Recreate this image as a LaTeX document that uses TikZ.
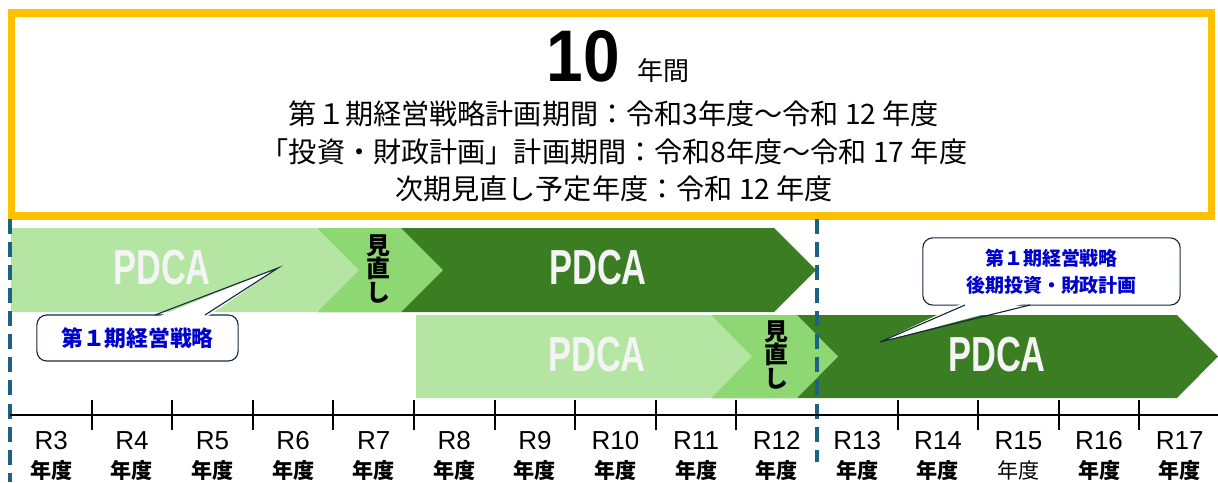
\documentclass[tikz,border=0pt]{standalone}
\usepackage{fontspec}
\setmainfont{Liberation Sans}
\newfontfamily\jpfont{Noto Sans CJK JP}
\usepackage{tikz}
\usetikzlibrary{positioning}
\definecolor{frameyellow}{HTML}{FFC000}
\definecolor{lightgreen}{HTML}{B4E5A2}
\definecolor{midgreen}{HTML}{8ED873}
\definecolor{darkgreen}{HTML}{3B7D23}
\definecolor{dashblue}{HTML}{1B6286}
\definecolor{calloutline}{HTML}{14293D}
\definecolor{calloutblue}{HTML}{0000CC}
\definecolor{pdcawhite}{HTML}{F4F4F4}
\tikzstyle{pdcatext} = [text=pdcawhite, font=\fontsize{35}{35}\selectfont\bfseries]
\tikzstyle{review} = [align=center, font=\jpfont\fontsize{17}{16.5}\selectfont\bfseries]
\tikzstyle{callbox} = [draw=calloutline, line width=0.8pt, fill=white, rounded corners=7pt]
\tikzstyle{calltext} = [text=calloutblue, align=center, font=\jpfont\fontsize{15.5}{19}\selectfont\bfseries]
\tikzstyle{divider} = [draw=dashblue, line width=2.4pt, dash pattern=on 10.7pt off 5.7pt]
\tikzstyle{yearlabel} = [align=center, font=\fontsize{18.5}{21}\selectfont]
\newcommand{\pdca}{\scalebox{0.7}[1]{PDCA}}

\begin{document}
\begin{tikzpicture}[x=0.025cm, y=-0.025cm] % 1 unit = 1 px of the original
\useasboundingbox (0,0) rectangle (1218,482);
% header frame
\draw[frameyellow, line width=5pt] (11.5,13) rectangle (1211.5,216);
\node (ten) at (583.5,56.5) {\fontsize{52}{52}\selectfont\bfseries\scalebox{0.9}[1]{10}};
\node (nenkan) [anchor=base west, inner sep=0pt] at (637,80) {\jpfont\fontsize{18.5}{18.5}\selectfont 年間};
\node (periods) [align=center, font=\jpfont\fontsize{20}{26.7}\selectfont] at (614,151.5)
  {第１期経営戦略計画期間：令和3年度～令和 12 年度\\
   「投資・財政計画」計画期間：令和8年度～令和 17 年度\\
   次期見直し予定年度：令和 12 年度};

% first row
\fill[darkgreen] (318,228) -- (774,228) -- (816,270) -- (774,312) -- (318,312) -- cycle;
\fill[midgreen] (318,228) -- (401,228) -- (443,270) -- (401,312) -- (318,312) -- cycle;
\fill[lightgreen] (11,228) -- (317,228) -- (359,270) -- (317,312) -- (11,312) -- cycle;
\node (pdca1) [pdcatext] at (162,268) {\pdca};
\node (review1) [review] at (378,269) {見\\直\\し};
\node (pdca2) [pdcatext] at (598,268) {\pdca};

% second row
\fill[darkgreen] (712,315) -- (1177,315) -- (1218,356.5) -- (1177,398) -- (712,398) -- cycle;
\fill[midgreen] (712,315) -- (797,315) -- (838,356.5) -- (797,398) -- (712,398) -- cycle;
\fill[lightgreen] (416,315) -- (711,315) -- (752,356.5) -- (711,398) -- (416,398) -- cycle;
\node (pdca3) [pdcatext] at (597,355) {\pdca};
\node (review2) [review] at (776,355) {見\\直\\し};
\node (pdca4) [pdcatext] at (997,355) {\pdca};

% dividers
\draw[divider] (10,219) -- (10,482);
\draw[divider] (817,219) -- (817,462);

% time axis
\draw[line width=1.4pt] (10,415) -- (1218,415);
\foreach \k in {1,...,9,11,12,13,14}
  \draw[line width=1.4pt] (11+80.6*\k,400) -- (11+80.6*\k,430);
\foreach \yr [count=\i from 0] in {3,...,17}{
  \ifnum\yr=15
    \node (yr\yr) [yearlabel] at (11+80.6*\i+40.3,456) {R\yr\\{\jpfont\fontsize{15}{15}\selectfont 年度}};
  \else
    \node (yr\yr) [yearlabel] at (11+80.6*\i+40.3,456) {R\yr\\{\jpfont\fontsize{15}{15}\selectfont\bfseries 年度}};
  \fi
}

% callouts
\node (strat1) [callbox, calltext, minimum width=5.03cm, minimum height=1.15cm] at (137.5,338) {第１期経営戦略};
\coordinate (tip1) at (278,268);
\fill[white] (155,318) -- (tip1) -- (205,318) -- cycle;
\draw[calloutline, line width=0.8pt] (155,315) -- (tip1) -- (205,315);

\node (strat2) [callbox, calltext, font=\jpfont\fontsize{13.5}{19.5}\selectfont\bfseries, minimum width=6.43cm, minimum height=1.68cm] at (1051.5,271.5) {第１期経営戦略\\後期投資・財政計画};
\coordinate (tip2) at (880,342);
\fill[white] (965,302) -- (tip2) -- (1030,302) -- cycle;
\draw[calloutline, line width=0.8pt] (965,305) -- (tip2) -- (1030,305);
\end{tikzpicture}
\end{document}
